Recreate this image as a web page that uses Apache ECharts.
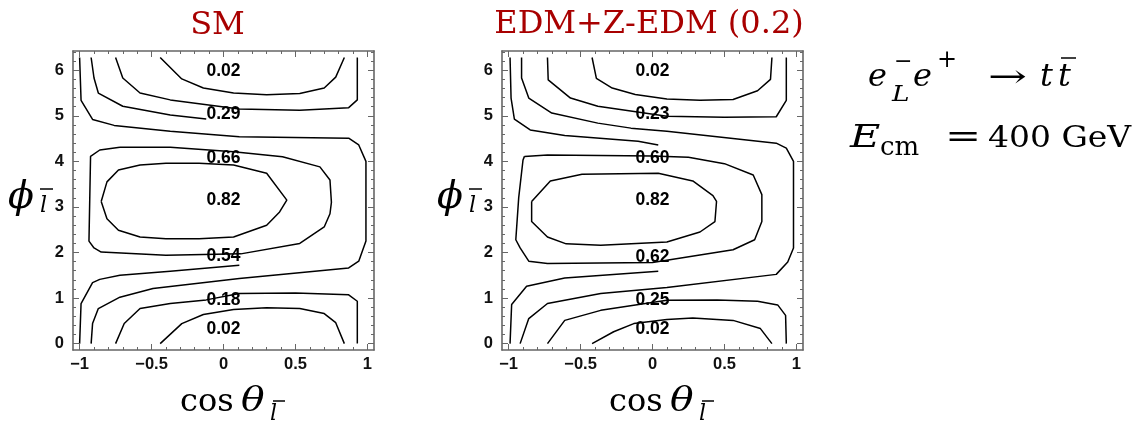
<!DOCTYPE html>
<html>
<head>
<meta charset="utf-8">
<script src="https://cdn.jsdelivr.net/npm/echarts@6/dist/echarts.min.js"></script>
<style>
  html, body { margin: 0; padding: 0; background: #fff; }
  #chart { width: 1142px; height: 424px; }
</style>
</head>
<body>
<div id="chart"></div>
<script>
// ---- tick values ----
const cosTicks = [-1, -0.5, 0, 0.5, 1];
const cosMinorTicks = [-1, -0.9, -0.8, -0.7, -0.6, -0.5, -0.4, -0.3, -0.2, -0.1, 0,
  0.1, 0.2, 0.3, 0.4, 0.5, 0.6, 0.7, 0.8, 0.9, 1];
const phiTicks = [0, 1, 2, 3, 4, 5, 6];
const phiMinorTicks = [0, 0.2, 0.4, 0.6, 0.8, 1, 1.2, 1.4, 1.6, 1.8, 2, 2.2, 2.4, 2.6, 2.8,
  3, 3.2, 3.4, 3.6, 3.8, 4, 4.2, 4.4, 4.6, 4.8, 5, 5.2, 5.4, 5.6, 5.8, 6, 6.2, 6.4];

// ---- contour labels (level text and where it sits on the cos = 0 line) ----
const smLevels = ['0.02', '0.29', '0.66', '0.82', '0.54', '0.18', '0.02'];
const smLevelPhi = [5.98, 5.04, 4.08, 3.15, 1.91, 0.95, 0.32];
const edmLevels = ['0.02', '0.23', '0.60', '0.82', '0.62', '0.25', '0.02'];
const edmLevelPhi = [5.98, 5.03, 4.08, 3.15, 1.90, 0.96, 0.31];

// ---- SM contour lines, points are [cos(theta), phi] ----
const smTop1 = [[-0.44, 6.28], [-0.29, 5.81], [-0.14, 5.61], [0.07, 5.5], [0.3, 5.46], [0.53, 5.49], [0.7, 5.61], [0.78, 5.85], [0.84, 6.28]];
const smTop2 = [[-0.75, 6.28], [-0.7, 5.83], [-0.58, 5.5], [-0.37, 5.35], [0.11, 5.15], [0.53, 5.12], [0.87, 5.18], [0.93, 5.35], [0.93, 6.28]];
const smTop3 = [[-0.92, 6.28], [-0.9, 5.83], [-0.87, 5.5], [-0.7, 5.21], [-0.37, 5.02], [-0.12, 4.93]];
const smOuter = [[-1, 6.28], [-0.99, 5.34], [-0.91, 4.92], [-0.76, 4.79], [-0.37, 4.66], [0.11, 4.54], [0.87, 4.51], [0.94, 4.36], [0.99, 4.0], [0.99, 2.25], [0.94, 1.81], [0.87, 1.66], [0.11, 1.43], [-0.49, 1.21], [-0.72, 1.02], [-0.87, 0.77], [-0.91, 0.44], [-0.92, 0]];
const smBottom4 = [[-1, 0], [-0.99, 0.88], [-0.91, 1.34], [-0.86, 1.41], [-0.72, 1.5], [-0.37, 1.59], [0.11, 1.72]];
const smRing = [[-0.72, 4.31], [-0.37, 4.31], [0.07, 4.21], [0.41, 4.1], [0.67, 3.88], [0.74, 3.59], [0.75, 3.1], [0.74, 2.85], [0.7, 2.56], [0.53, 2.2], [0.12, 1.97], [-0.4, 1.94], [-0.85, 2.01], [-0.9, 2.1], [-0.935, 2.25], [-0.924, 4.11], [-0.86, 4.25], [-0.72, 4.31]];
const smCore = [[-0.85, 3.12], [-0.81, 3.55], [-0.73, 3.81], [-0.58, 3.92], [-0.4, 3.96], [-0.17, 3.96], [0.07, 3.92], [0.3, 3.74], [0.44, 3.15], [0.39, 2.89], [0.3, 2.6], [0.07, 2.34], [-0.17, 2.3], [-0.4, 2.3], [-0.58, 2.34], [-0.73, 2.49], [-0.81, 2.74], [-0.85, 3.12]];
const smBottom1 = [[-0.44, 0], [-0.29, 0.44], [-0.14, 0.64], [0.07, 0.75], [0.3, 0.79], [0.53, 0.77], [0.7, 0.66], [0.78, 0.46], [0.84, 0]];
const smBottom2 = [[-0.75, 0], [-0.69, 0.44], [-0.58, 0.77], [-0.37, 0.88], [-0.12, 0.96], [0.11, 1.1], [0.5, 1.11], [0.87, 1.07], [0.93, 0.93], [0.93, 0]];

// ---- EDM + Z-EDM (0.2) contour lines ----
const edmTop1 = [[-0.42, 6.28], [-0.39, 5.82], [-0.28, 5.61], [-0.12, 5.47], [0.1, 5.37], [0.33, 5.34], [0.56, 5.36], [0.73, 5.55], [0.82, 5.8], [0.83, 6.28]];
const edmTop2 = [[-0.73, 6.28], [-0.725, 5.79], [-0.57, 5.39], [-0.38, 5.21], [0.1, 4.99], [0.5, 4.97], [0.86, 4.98], [0.93, 5.34], [0.93, 6.28]];
const edmOuter = [[-0.91, 6.28], [-0.91, 5.83], [-0.86, 5.39], [-0.7, 5.06], [-0.38, 4.84], [-0.15, 4.73], [0.1, 4.66], [0.86, 4.4], [0.93, 4.29], [0.98, 4.0], [0.98, 2.1], [0.94, 1.79], [0.86, 1.52], [0.1, 1.23], [-0.36, 1.1], [-0.73, 0.88], [-0.86, 0.55], [-0.92, 0]];
const edmTop4 = [[-0.99, 6.28], [-0.983, 5.39], [-0.96, 4.93], [-0.85, 4.69], [-0.61, 4.57], [-0.1, 4.44], [0.04, 4.36]];
const edmBottom4 = [[-0.99, 0], [-0.979, 0.86], [-0.875, 1.26], [-0.61, 1.44], [0.04, 1.59]];
const edmRing = [[-0.89, 4.11], [-0.73, 4.14], [0.0, 4.12], [0.25, 4.09], [0.5, 3.95], [0.7, 3.7], [0.76, 3.27], [0.76, 2.68], [0.71, 2.28], [0.56, 2.06], [0.0, 1.78], [-0.73, 1.76], [-0.86, 1.81], [-0.92, 2.1], [-0.95, 2.28], [-0.93, 3.2], [-0.9, 4.03], [-0.89, 4.11]];
const edmCore = [[-0.84, 3.12], [-0.71, 3.57], [-0.49, 3.72], [0.04, 3.74], [0.28, 3.57], [0.42, 3.25], [0.445, 3.12], [0.434, 2.68], [0.33, 2.45], [0.1, 2.23], [-0.36, 2.16], [-0.6, 2.19], [-0.73, 2.34], [-0.84, 2.68], [-0.84, 3.12]];
const edmBottom1 = [[-0.42, 0], [-0.27, 0.26], [-0.13, 0.44], [0.1, 0.53], [0.28, 0.56], [0.56, 0.51], [0.75, 0.33], [0.83, 0]];
const edmBottom2 = [[-0.73, 0], [-0.61, 0.51], [-0.36, 0.73], [0.1, 0.95], [0.45, 0.96], [0.73, 0.93], [0.87, 0.85], [0.925, 0.62], [0.93, 0]];

const smLines = [smTop1, smTop2, smTop3, smOuter, smBottom4, smRing, smCore, smBottom1, smBottom2];
const edmLines = [edmTop1, edmTop2, edmOuter, edmTop4, edmBottom4, edmRing, edmCore, edmBottom1, edmBottom2];

// ---- layout / style ----
const X_MIN = -1.046, X_MAX = 1.046;
const Y_MIN = -0.14, Y_MAX = 6.423;
const FRAME = '#666';
const SANS = '"Liberation Sans", Arial, sans-serif';
const SERIF = '"DejaVu Serif", serif';
const TITLE_RED = '#a80000';

const fmtTick = v => (v < 0 ? '\u2212' + String(-v) : String(v));

function makeAxis(gridIndex, dim, position, ticks, len, withLine, withLabels) {
  const isX = dim === 'x';
  return {
    gridIndex, type: 'value', position,
    min: isX ? X_MIN : Y_MIN,
    max: isX ? X_MAX : Y_MAX,
    silent: true,
    splitLine: { show: false },
    axisLine: { show: withLine, onZero: false, lineStyle: { color: FRAME, width: 1.6 } },
    axisTick: { show: true, inside: true, length: len, customValues: ticks, lineStyle: { color: FRAME, width: 1 } },
    axisLabel: withLabels ? {
      show: true, customValues: ticks, margin: isX ? 6 : 9,
      fontFamily: SANS, fontWeight: 'bold', fontSize: 16.5, color: '#111', formatter: fmtTick
    } : { show: false },
    axisPointer: { show: false }
  };
}

function axesFor(gridIndex) {
  return {
    x: [
      makeAxis(gridIndex, 'x', 'bottom', cosTicks, 6, true, true),
      makeAxis(gridIndex, 'x', 'bottom', cosMinorTicks, 3, false, false),
      makeAxis(gridIndex, 'x', 'top', cosTicks, 6, true, false),
      makeAxis(gridIndex, 'x', 'top', cosMinorTicks, 3, false, false)
    ],
    y: [
      makeAxis(gridIndex, 'y', 'left', phiTicks, 6, true, true),
      makeAxis(gridIndex, 'y', 'left', phiMinorTicks, 3, false, false),
      makeAxis(gridIndex, 'y', 'right', phiTicks, 6, true, false),
      makeAxis(gridIndex, 'y', 'right', phiMinorTicks, 3, false, false)
    ]
  };
}

const leftAxes = axesFor(0), rightAxes = axesFor(1);

function contourSeries(lines, axisIndex) {
  return lines.map(pts => ({
    type: 'line', xAxisIndex: axisIndex, yAxisIndex: axisIndex,
    data: pts, showSymbol: false, symbol: 'none', smooth: false,
    lineStyle: { color: '#000', width: 1.5 },
    silent: true, animation: false, z: 3
  }));
}

function levelSeries(levels, phis, axisIndex) {
  return {
    type: 'scatter', xAxisIndex: axisIndex, yAxisIndex: axisIndex,
    data: levels.map((name, i) => ({ name, value: [0, phis[i]] })),
    symbol: 'circle', symbolSize: 2,
    itemStyle: { color: 'rgba(255,255,255,0)' },
    label: {
      show: true, position: 'inside', formatter: p => p.name,
      fontFamily: SANS, fontWeight: 'bold', fontSize: 17.5, color: '#000',
      opacity: 1
    },
    labelLayout: { hideOverlap: false },
    silent: true, animation: false, z: 10
  };
}

// text helper: x = left (or centre), b = baseline in px
function txt(text, x, b, size, opt = {}) {
  return {
    type: 'text', x, y: b + 0.2 * size, silent: true,
    scaleX: opt.scaleX || 1,
    style: {
      text,
      font: (opt.italic ? 'italic ' : '') + size + 'px ' + (opt.family || SERIF),
      fill: opt.color || '#000',
      textAlign: opt.align || 'left',
      textVerticalAlign: 'bottom'
    }
  };
}
function bar(x1, x2, y) {
  return { type: 'line', silent: true, shape: { x1, y1: y, x2, y2: y }, style: { stroke: '#000', lineWidth: 1.5 } };
}

function axisTitles(dx) {
  return [
    txt('cos', 180 + dx, 412, 32),
    txt('\u03b8', 241 + dx, 412, 34, { italic: true, scaleX: 1.15 }),
    txt('l', 270 + dx, 421, 22, { italic: true }),
    bar(273 + dx, 285 + dx, 401),
    txt('\u03d5', 8 + dx, 210, 38, { italic: true }),
    txt('l', 40 + dx, 213, 22, { italic: true }),
    bar(40 + dx, 53 + dx, 189)
  ];
}

const graphics = [
  txt('SM', 217.5, 35, 32, { align: 'center', color: TITLE_RED }),
  txt('EDM+Z-EDM (0.2)', 649, 34, 32, { align: 'center', color: TITLE_RED }),
  ...axisTitles(0),
  ...axisTitles(429),
  // process
  txt('e', 868, 87, 32, { italic: true }),
  txt('\u2212', 894, 69, 22),
  txt('L', 892, 102, 22, { italic: true, scaleX: 1.2 }),
  txt('e', 913, 87, 32, { italic: true }),
  txt('+', 937, 68, 24),
  txt('\u2192', 988, 88, 32, { scaleX: 1.45 }),
  txt('t', 1040, 87, 32, { italic: true }),
  txt('t', 1058, 87, 32, { italic: true }),
  bar(1061, 1076, 58),
  // energy
  txt('E', 850, 148, 32, { italic: true, scaleX: 1.3 }),
  txt('cm', 880, 156, 26),
  txt('=', 945, 148, 32, { scaleX: 1.35 }),
  txt('400 GeV', 988, 148, 30, { scaleX: 1.1 })
];

const chart = echarts.init(document.getElementById('chart'), null, { renderer: 'canvas' });
chart.setOption({
  animation: false,
  backgroundColor: '#fff',
  grid: [
    { left: 73, top: 51, width: 301, height: 299 },
    { left: 502, top: 51, width: 301, height: 299 }
  ],
  xAxis: [...leftAxes.x, ...rightAxes.x],
  yAxis: [...leftAxes.y, ...rightAxes.y],
  series: [
    ...contourSeries(smLines, 0),
    ...contourSeries(edmLines, 4),
    levelSeries(smLevels, smLevelPhi, 0),
    levelSeries(edmLevels, edmLevelPhi, 4)
  ],
  graphic: graphics
});
</script>
</body>
</html>
